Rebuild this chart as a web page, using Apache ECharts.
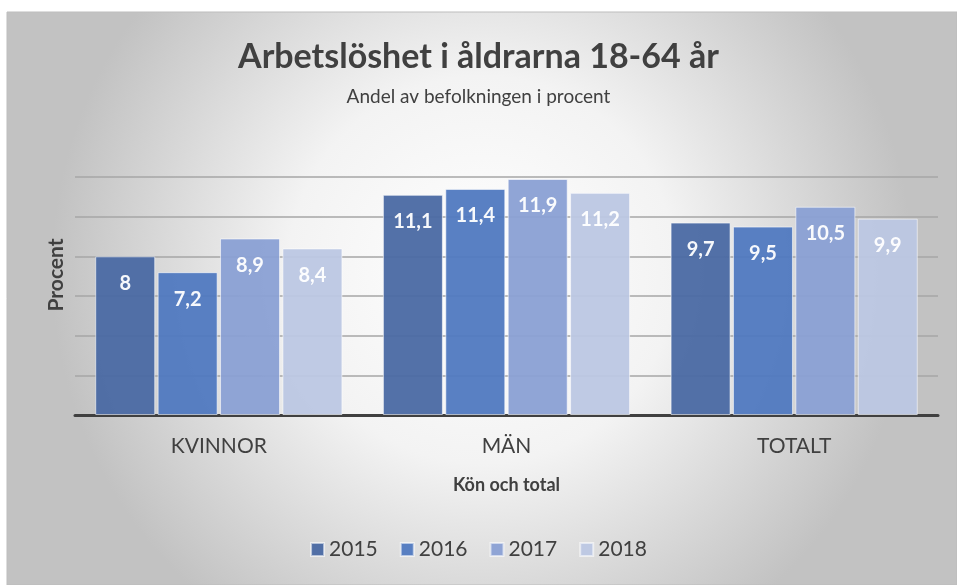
<!DOCTYPE html>
<html>
<head>
<meta charset="utf-8">
<script src="https://cdn.jsdelivr.net/npm/echarts@6/dist/echarts.min.js"></script>
<style>
  html, body { margin: 0; padding: 0; background: #fff; }
  #main { width: 957px; height: 585px; }
</style>
</head>
<body>
<div id="main"></div>
<script>
// data
var categories = ['KVINNOR', 'MÄN', 'TOTALT'];
var years = ['2015', '2016', '2017', '2018'];
var v2015 = [8, 11.1, 9.7];
var v2016 = [7.2, 11.4, 9.5];
var v2017 = [8.9, 11.9, 10.5];
var v2018 = [8.4, 11.2, 9.9];
var colors = ['#4a69a3', '#5079c0', '#8aa0d4', '#bcc7e3'];

var font = 'Lato, "Open Sans", sans-serif';
var myChart = echarts.init(document.getElementById('main'));

function serie(name, data, i) {
    return {
        name: name,
        type: 'bar',
        data: data,
        barWidth: 60,
        barGap: '4%',
        itemStyle: {
            color: colors[i],
            opacity: 0.95,
            borderColor: 'rgba(255,255,255,0.6)',
            borderWidth: 1
        },
        label: {
            show: true,
            position: 'insideTop',
            distance: 17,
            color: '#fff',
            fontFamily: font,
            fontWeight: 'bold',
            fontSize: 20,
            formatter: function (p) {
                return String(p.value).replace('.', ',')
            }
        }
    }
}

var option = {
    animation: false,
    graphic: [{
        type: 'rect',
        z: -10,
        silent: true,
        shape: {x: 7, y: 12, width: 950, height: 573},
        style: {
            fill: new echarts.graphic.RadialGradient(0.5, 0.45, 0.75, [
                {offset: 0, color: '#ffffff'},
                {offset: 0.45, color: '#f3f3f3'},
                {offset: 1, color: '#c2c2c2'}
            ]),
            stroke: '#bdbdbd',
            lineWidth: 1
        }
    }],
    title: {
        text: 'Arbetslöshet i åldrarna 18-64 år',
        subtext: 'Andel av befolkningen i procent',
        left: 'center',
        top: 35,
        itemGap: 13,
        textStyle: {
            fontFamily: font,
            fontWeight: 'bold',
            fontSize: 34,
            color: '#404040'
        },
        subtextStyle: {
            fontFamily: font,
            fontSize: 19,
            color: '#404040'
        }
    },
    legend: {
        data: years,
        bottom: 20,
        left: 'center',
        itemWidth: 13,
        itemHeight: 13,
        itemGap: 22,
        icon: 'rect',
        textStyle: {
            fontFamily: font,
            fontSize: 21,
            color: '#404040'
        }
    },
    grid: {
        left: 75,
        right: 19,
        top: 177,
        bottom: 170
    },
    xAxis: {
        type: 'category',
        data: categories,
        name: 'Kön och total',
        nameLocation: 'middle',
        nameGap: 61,
        nameTextStyle: {
            fontFamily: font,
            fontWeight: 'bold',
            fontSize: 18,
            color: '#404040'
        },
        axisLine: {lineStyle: {color: '#404040', width: 3}},
        axisTick: {show: false},
        axisLabel: {
            margin: 21,
            fontFamily: font,
            fontSize: 21,
            color: '#404040'
        }
    },
    yAxis: {
        type: 'value',
        min: 0,
        max: 12,
        interval: 2,
        name: 'Procent',
        nameLocation: 'middle',
        nameGap: 8,
        nameTextStyle: {
            fontFamily: font,
            fontWeight: 'bold',
            fontSize: 21,
            color: '#404040',
            padding: [0, 0, 0, 42]
        },
        axisLabel: {show: false},
        splitLine: {lineStyle: {color: '#a6a6a6', width: 1.5}}
    },
    series: [
        serie(years[0], v2015, 0),
        serie(years[1], v2016, 1),
        serie(years[2], v2017, 2),
        serie(years[3], v2018, 3)
    ]
};

myChart.setOption(option);
</script>
</body>
</html>
